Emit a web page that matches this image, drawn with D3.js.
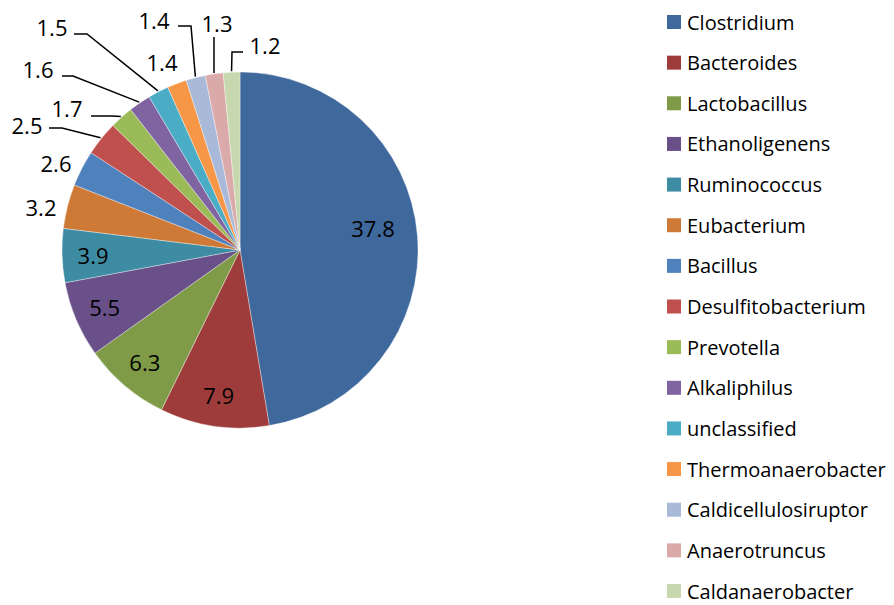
<!DOCTYPE html>
<html>
<head>
<meta charset="utf-8">
<script src="https://cdn.jsdelivr.net/npm/d3@7"></script>
<style>
  body { margin: 0; background: #fff; }
  text { font-family: "Open Sans", "Noto Sans", sans-serif; fill: #000; }
</style>
</head>
<body>
<svg id="chart" width="894" height="605"></svg>
<script>
// data
const genera = ["Clostridium", "Bacteroides", "Lactobacillus", "Ethanoligenens", "Ruminococcus",
  "Eubacterium", "Bacillus", "Desulfitobacterium", "Prevotella", "Alkaliphilus",
  "unclassified", "Thermoanaerobacter", "Caldicellulosiruptor", "Anaerotruncus", "Caldanaerobacter"];
const shares = [37.8, 7.9, 6.3, 5.5, 3.9, 3.2, 2.6, 2.5, 1.7, 1.6, 1.5, 1.4, 1.4, 1.3, 1.2];
const colours = ["#3F689C", "#9E3C3B", "#7F9B48", "#6A5089", "#3D8CA3",
  "#CE7A36", "#4F81BD", "#C0504D", "#9BBB59", "#8064A2",
  "#4BACC6", "#F79646", "#A9BAD8", "#D9AAA9", "#C8D8AE"];

// where excel put the outside labels (centre of text) and leader elbows
// leader: [elbowStartX, elbowEndX, elbowY], then it runs to the slice edge
const outsideLabels = {
  5:  { x: 41,  y: 207, leader: null },
  6:  { x: 56,  y: 163, leader: null },
  7:  { x: 27,  y: 125, leader: [49, 62, 128] },
  8:  { x: 67,  y: 108, leader: [91, 112, 116] },
  9:  { x: 38,  y: 69,  leader: [62, 73, 76] },
  10: { x: 52,  y: 27,  leader: [74, 87, 34] },
  11: { x: 162, y: 62,  leader: null },
  12: { x: 154, y: 20,  leader: [178, 191, 26] },
  13: { x: 217, y: 23,  leader: [214, 214, 37] },
  14: { x: 265, y: 45,  leader: [243, 232, 52] }
};

const svg = d3.select("#chart");
const cx = 240, cy = 250, r = 178;
const labelSize = "22px";

const pie = d3.pie().sort(null).value(d => d)(shares);
const arc = d3.arc().innerRadius(0).outerRadius(r);

const g = svg.append("g").attr("transform", `translate(${cx},${cy})`);

g.selectAll("path.slice")
  .data(pie)
  .join("path")
  .attr("class", "slice")
  .attr("d", arc)
  .attr("fill", (d, i) => colours[i])
  .attr("stroke", "#fff")
  .attr("stroke-opacity", 0.6)
  .attr("stroke-width", 0.6);

// labels inside the big slices
const inArc = d3.arc().innerRadius(147).outerRadius(147);
pie.forEach((d, i) => {
  if (outsideLabels[i]) return;
  let [x, y] = inArc.centroid(d);
  if (i == 0) { x = 133; y = -22; }
  g.append("text")
    .attr("x", x).attr("y", y)
    .attr("text-anchor", "middle")
    .attr("dominant-baseline", "central")
    .style("font-size", labelSize)
    .text(shares[i]);
});

// outside labels with leader lines
pie.forEach((d, i) => {
  const lab = outsideLabels[i];
  if (!lab) return;
  svg.append("text")
    .attr("x", lab.x).attr("y", lab.y)
    .attr("text-anchor", "middle")
    .attr("dominant-baseline", "central")
    .style("font-size", labelSize)
    .text(shares[i]);
  if (lab.leader) {
    const a = (d.startAngle + d.endAngle) / 2;
    const px = cx + (r + 1) * Math.sin(a), py = cy - (r + 1) * Math.cos(a);
    const [x0, x1, ly] = lab.leader;
    svg.append("polyline")
      .attr("points", `${x0},${ly} ${x1},${ly} ${px},${py}`)
      .attr("fill", "none")
      .attr("stroke", "#000")
      .attr("stroke-width", 1.5);
  }
});

// legend
const legendY = d3.scalePoint().domain(genera).range([22, 591]);
const leg = svg.append("g");
genera.forEach((name, i) => {
  const y = legendY(name);
  leg.append("rect")
    .attr("x", 667).attr("y", y - 7)
    .attr("width", 14).attr("height", 14)
    .attr("fill", colours[i]);
  leg.append("text")
    .attr("x", 687).attr("y", y)
    .attr("dominant-baseline", "central")
    .style("font-size", "20px")
    .text(name);
});
</script>
</body>
</html>
